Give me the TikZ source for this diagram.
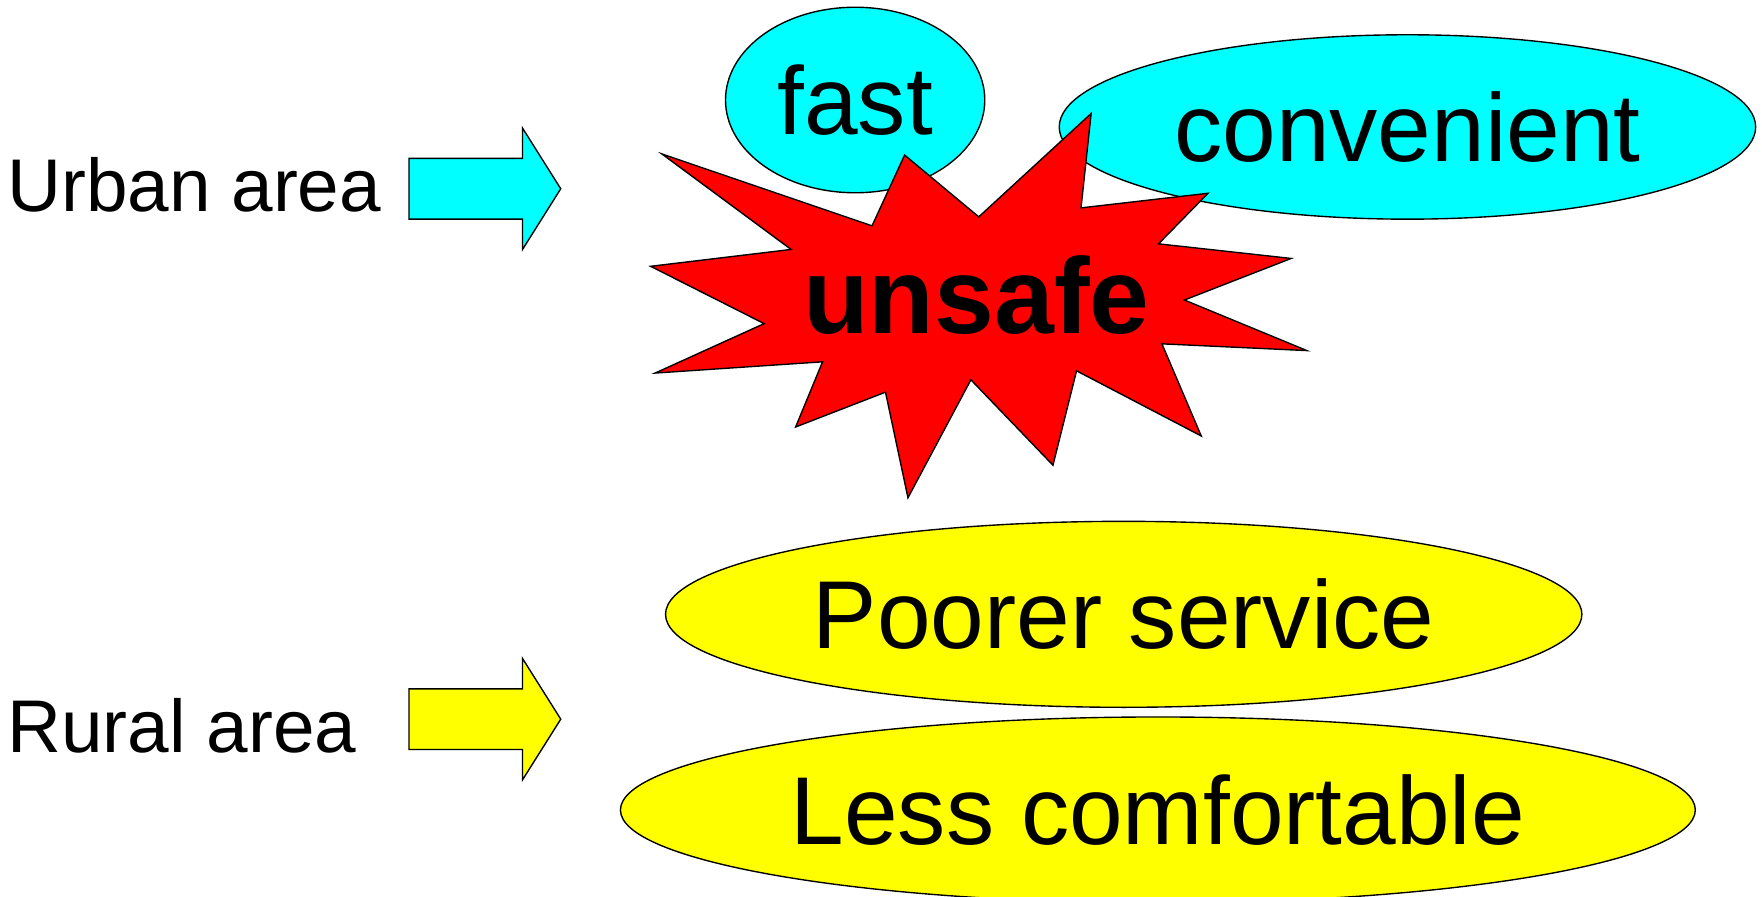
\documentclass[tikz,border=0pt]{standalone}
\usepackage{fontspec}
\setmainfont{Liberation Sans}
\usetikzlibrary{shapes.geometric}
\definecolor{aquafill}{RGB}{0,255,255}
\definecolor{lemonfill}{RGB}{255,255,0}
\definecolor{blastfill}{RGB}{255,0,0}

\begin{document}
\begin{tikzpicture}[x=0.01cm, y=-0.01cm,
        outline/.style={draw=black, line width=0.35pt},
        bubble/.style={ellipse, outline, inner sep=0pt, font=\fontsize{24.4}{28}\selectfont},
        area/.style={inner sep=0pt, anchor=base west, font=\fontsize{18.9}{22}\selectfont}]
        \useasboundingbox (0, 0) rectangle (1568, 798);
        % left labels
        \node[area] (urban) at (6, 188) {Urban area};
        \node[area] (rural) at (6, 670) {Rural area};
        % block arrows
        \foreach \y/\c in {168/aquafill, 640/lemonfill}
        {
            \draw[outline, fill=\c] (364, {\y-27}) -- (465, {\y-27}) -- (465, {\y-54}) -- (499, \y)
                -- (465, {\y+54}) -- (465, {\y+27}) -- (364, {\y+27}) -- cycle;
        }
        % urban bubbles
        \node[bubble, fill=aquafill, minimum width=2.306cm, minimum height=1.65cm] (fast) at (761, 89) {fast};
        \node[bubble, fill=aquafill, minimum width=6.194cm, minimum height=1.64cm] (convenient) at (1252.5, 113) {convenient};
        % explosion
        \draw[outline, fill=blastfill] (589, 137) -- (776, 201) -- (805, 138) -- (871, 193) -- (971, 101)
            -- (962, 185) -- (1075, 172) -- (1031, 217) -- (1149, 230) -- (1054, 267) -- (1163, 312)
            -- (1034, 306) -- (1069, 388) -- (958, 330) -- (937, 414) -- (864, 338) -- (808, 443)
            -- (788, 349) -- (708, 380) -- (732, 322) -- (583, 332) -- (680, 288) -- (579, 237)
            -- (704, 222) -- cycle;
        \node[inner sep=0pt, font=\bfseries\fontsize{27.2}{32}\selectfont] (unsafe) at (869, 263) {unsafe};
        % rural bubbles
        \node[bubble, fill=lemonfill, minimum width=8.15cm, minimum height=1.654cm] (poorer) at (1000, 546.7) {Poorer service};
        \node[bubble, fill=lemonfill, minimum width=9.56cm, minimum height=1.654cm] (less) at (1030.4, 720.8) {Less comfortable};
    \end{tikzpicture}
\end{document}
